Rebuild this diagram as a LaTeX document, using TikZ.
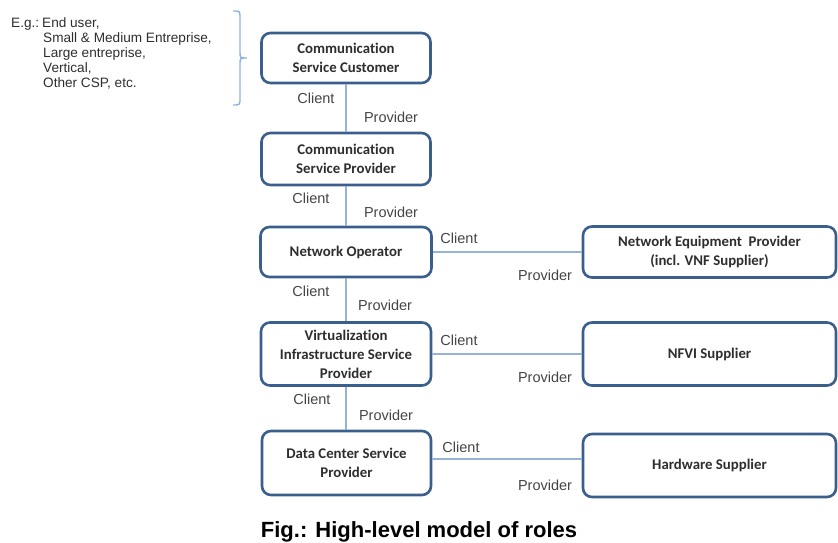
\documentclass[tikz,border=0pt]{standalone}
\usepackage{fontspec}
\setmainfont{Liberation Sans}
\newfontfamily\boxfont[Ligatures=NoCommon]{Carlito}
\definecolor{boxblue}{HTML}{3B5F8C}
\definecolor{lineblue}{HTML}{95B3D7}
\definecolor{bracecol}{HTML}{8DB3E2}
\definecolor{boxtext}{HTML}{2E2E2E}
\definecolor{lbltext}{HTML}{454545}
\begin{document}
\begin{tikzpicture}[x=1pt,y=-1pt,
  rolebox/.style={draw=boxblue, line width=2.6pt, rounded corners=9pt, fill=white,
    align=center, inner sep=0pt, text=boxtext,
    font=\boxfont\bfseries\fontsize{14.8}{19}\selectfont},
  lbl/.style={inner sep=0pt, text=lbltext, font=\fontsize{14.5}{17}\selectfont},
  note/.style={inner sep=0pt, anchor=base west, text=boxtext, font=\fontsize{13.6}{15}\selectfont},
  link/.style={draw=lineblue, line width=1.8pt}
]
\useasboundingbox (0,0) rectangle (838,542);

% left column boxes
\node[rolebox, minimum width=169pt, minimum height=50pt] (csc) at (346,58) {Communication\\Service Customer};
\node[rolebox, minimum width=169pt, minimum height=52pt] (csp) at (346,159) {Communication\\Service Provider};
\node[rolebox, minimum width=171pt, minimum height=50pt] (no) at (346,252) {Network Operator};
\node[rolebox, minimum width=170pt, minimum height=63pt] (vis) at (346,354) {Virtualization\\Infrastructure Service\\Provider};
\node[rolebox, minimum width=169pt, minimum height=64pt] (dc) at (346.5,463) {Data Center Service\\Provider};

% right column boxes
\node[rolebox, minimum width=253pt, minimum height=51pt] (nep) at (709.5,252) {Network Equipment\ \ Provider\\(incl. VNF Supplier)};
\node[rolebox, minimum width=253pt, minimum height=63pt] (nfvi) at (709.5,354) {NFVI Supplier};
\node[rolebox, minimum width=253pt, minimum height=63pt] (hw) at (709.5,465.5) {Hardware Supplier};

% connectors
\draw[link] (csc.south) -- (csp.north);
\draw[link] (csp.south) -- (no.north);
\draw[link] (no.south) -- (vis.north);
\draw[link] (vis.south) -- (vis.south |- dc.north);
\draw[link] (no.east) -- (nep.west);
\draw[link] (vis.east) -- (nfvi.west);
\draw[link] ([yshift=4pt]dc.east) -- ([yshift=6.5pt]hw.west);

% vertical labels
\node[lbl] (c1) at (316,98) {Client};
\node[lbl] (p1) at (391,117) {Provider};
\node[lbl] (c2) at (311,198) {Client};
\node[lbl] (p2) at (391,212) {Provider};
\node[lbl] (c3) at (311,291) {Client};
\node[lbl] (p3) at (385,305) {Provider};
\node[lbl] (c4) at (312,399) {Client};
\node[lbl] (p4) at (386,415) {Provider};

% horizontal labels
\node[lbl] (c5) at (459,238) {Client};
\node[lbl] (p5) at (545,275) {Provider};
\node[lbl] (c6) at (459,340) {Client};
\node[lbl] (p6) at (545,377) {Provider};
\node[lbl] (c7) at (461,447) {Client};
\node[lbl] (p7) at (545,485) {Provider};

% examples note
\node[note] (eg) at (11,27) {E.g.:};
\node[note] (n1) at (42,27) {End user,};
\node[note] (n2) at (43,42) {Small \& Medium Entreprise,};
\node[note] (n3) at (43,57) {Large entreprise,};
\node[note] (n4) at (43,72) {Vertical,};
\node[note] (n5) at (43,87) {Other CSP, etc.};

% brace
\draw[draw=bracecol, line width=1.4pt]
  (233,11) .. controls (240,11) .. (240,18) -- (240,52)
  .. controls (240,58) .. (247,58)
  .. controls (240,58) .. (240,64) -- (240,98)
  .. controls (240,105) .. (233,105);

% caption
\node[inner sep=0pt, anchor=base, font=\bfseries\fontsize{22}{25}\selectfont, text=black] (cap) at (419,537) {Fig.: High-level model of roles};
\end{tikzpicture}
\end{document}
